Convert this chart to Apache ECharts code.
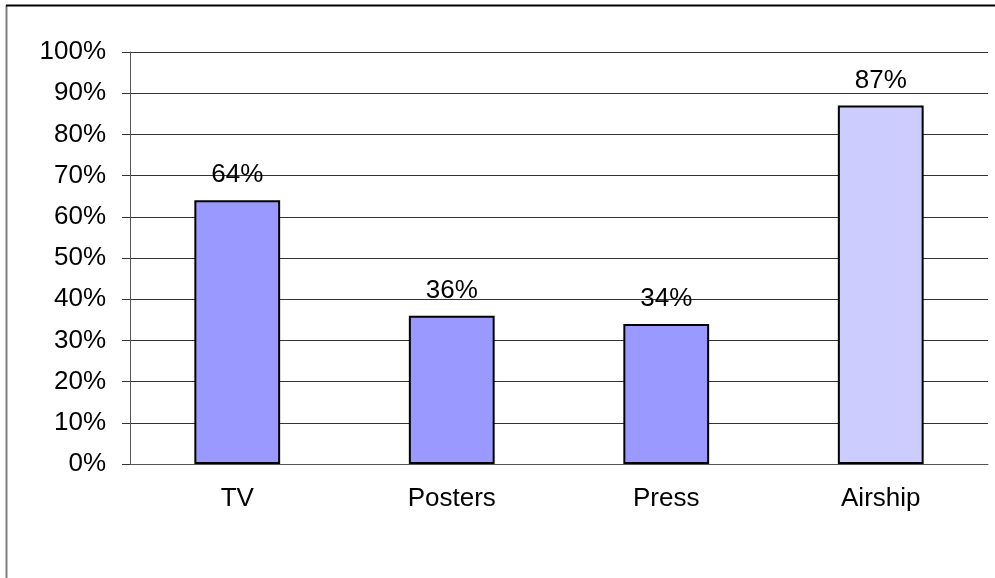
<!DOCTYPE html>
<html>
<head>
<meta charset="utf-8">
<script src="https://cdn.jsdelivr.net/npm/echarts@6/dist/echarts.min.js"></script>
<style>
html,body{margin:0;padding:0;background:#fff;}
#chart{width:995px;height:578px;}
</style>
</head>
<body>
<div id="chart"></div>
<script>
var categories = ['TV', 'Posters', 'Press', 'Airship'];
var values = [64, 36, 34, 87];
var barColors = ['#9999ff', '#9999ff', '#9999ff', '#ccccff'];

var chart = echarts.init(document.getElementById('chart'));
chart.setOption({
  animation: false,
  backgroundColor: '#fff',
  textStyle: {fontFamily: 'Liberation Sans, Arial, sans-serif'},
  graphic: [
    {type: 'line', shape: {x1: 6.5, y1: 5, x2: 6.5, y2: 578}, style: {stroke: '#808080', lineWidth: 2}},
    {type: 'line', shape: {x1: 6, y1: 5.5, x2: 995, y2: 5.5}, style: {stroke: '#000', lineWidth: 2}}
  ],
  grid: {left: 130, top: 52, width: 858, height: 412},
  xAxis: {
    type: 'category',
    data: categories,
    axisLine: {lineStyle: {color: '#555', width: 1}},
    axisTick: {show: false},
    axisLabel: {color: '#000', fontSize: 26, margin: 22, fontFamily: 'Liberation Sans, Arial, sans-serif'}
  },
  yAxis: {
    type: 'value',
    min: 0, max: 100, interval: 10,
    axisLine: {show: true, lineStyle: {color: '#555', width: 1}},
    axisTick: {show: true, length: 8, lineStyle: {color: '#333'}},
    splitLine: {lineStyle: {color: '#333', width: 1}},
    axisLabel: {color: '#000', fontSize: 26, margin: 24, formatter: '{value}%', fontFamily: 'Liberation Sans, Arial, sans-serif'}
  },
  series: [{
    type: 'bar',
    barWidth: '40%',
    data: values.map(function (v, i) {
      return {value: v, itemStyle: {color: barColors[i]}};
    }),
    itemStyle: {borderColor: '#000', borderWidth: 2},
    label: {
      show: true, position: 'top', distance: 12,
      formatter: '{c}%', color: '#000', fontSize: 26,
      fontFamily: 'Liberation Sans, Arial, sans-serif'
    }
  }]
});
</script>
</body>
</html>
